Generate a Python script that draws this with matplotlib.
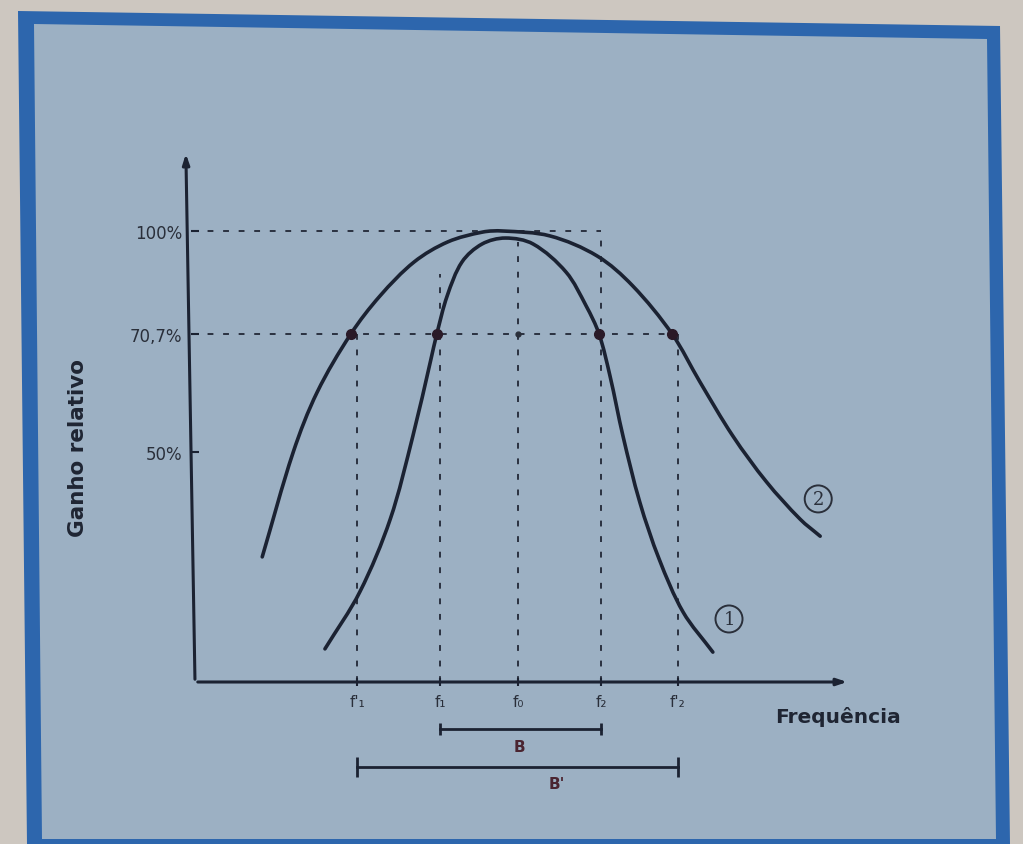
import numpy as np
import matplotlib
matplotlib.use("Agg")
import matplotlib.pyplot as plt
from matplotlib.patches import Polygon, PathPatch
from matplotlib.path import Path

# ---------------- data ----------------
# frequency in arbitrary units (axis origin = 0), gain in percent
freq_positions = [25.1, 37.9, 50.0, 62.8, 74.7]
freq_labels = ["f'\u2081", "f\u2081", "f\u2080", "f\u2082", "f'\u2082"]
vline_tops = [70.7, 87.8, 97.0, 100.0, 70.7]
cut_x = [24.1, 37.4, 62.5, 73.8]        # -3 dB crossing points (70,7 %)
cut_y = [70.7, 70.7, 70.7, 70.7]

gain_ticks = [50, 70.7, 100]
gain_labels = ["50%", "70,7%", "100%"]

# curve 1 (narrow band)
curve1_x = [20.1, 25.5, 30.2, 33.7, 36.5, 37.4, 39.0, 41.3, 44.4, 48.0,
            52.3, 57.4, 60.5, 62.5, 64.2, 66.2, 68.8, 71.8, 75.5, 80.1]
curve1_y = [7.2, 19.6, 35.4, 52.8, 66.3, 70.7, 81.5, 91.2, 96.3, 98.0,
            96.3, 88.3, 78.7, 70.7, 63.3, 52.8, 39.1, 26.7, 15.2, 6.5]
# curve 2 (wide band)
curve2_x = [10.4, 15.2, 18.9, 24.1, 28.6, 33.9, 39.1, 44.5, 47.6, 54.9,
            62.2, 67.7, 73.8, 78.1, 83.2, 88.4, 93.6, 96.7]
curve2_y = [27.2, 50.0, 60.5, 70.7, 81.5, 91.2, 96.9, 99.7, 100.0, 98.6,
            92.9, 84.4, 70.7, 62.3, 52.8, 43.5, 35.4, 31.7]

# ---------------- figure ----------------
W, H = 1023, 845
fig = plt.figure(figsize=(W / 100, H / 100), dpi=100)
fig.patch.set_facecolor("#cdc7c0")

def fp(pts):
    return [(x / W, 1 - y / H) for x, y in pts]

outer = Polygon(fp([(18, 12), (1000, 27), (1010, 845), (27, 845)]),
                closed=True, transform=fig.transFigure, fc="#2d66ad", ec="none", zorder=-3)
inner = Polygon(fp([(34, 25), (987, 40), (996, 840), (42, 840)]),
                closed=True, transform=fig.transFigure, fc="#9cb0c3", ec="none", zorder=-2)
fig.patches.extend([outer, inner])

ink = "#1b2232"
ax = fig.add_axes([195 / W, (H - 683) / H, (850 - 195) / W, (683 - 152) / H])
ax.set_facecolor("none")
ax.set_zorder(1)

# non-uniform vertical scale as drawn in the original
knots_pct = np.array([0, 50, 70.7, 100, 140])
knots_h = np.array([0, 230, 348, 451, 591.8])
fwd = lambda v: np.interp(v, knots_pct, knots_h)
inv = lambda h: np.interp(h, knots_h, knots_pct)
ax.set_yscale("function", functions=(fwd, inv))
XS = 6.465
ax.set_xlim(0, (850 - 195) / XS)
ax.set_ylim(0, float(inv(531)))

for s in ax.spines.values():
    s.set_visible(False)

# axes with arrows
ax.annotate("", xy=(1.0, 0), xytext=(0, 0), xycoords="axes fraction",
            arrowprops=dict(arrowstyle="-|>,head_length=0.6,head_width=0.2", color=ink, lw=2.2))
ax.annotate("", xy=(-0.014, 1.0), xytext=(0, 0), xycoords="axes fraction",
            arrowprops=dict(arrowstyle="-|>,head_length=0.6,head_width=0.2", color=ink, lw=2.2))

# dashed guide lines
dash = dict(color="#2a3140", lw=1.4, ls=(0, (3, 5)), zorder=1)
ax.plot([-0.5, freq_positions[3]], [100, 100], clip_on=False, **dash)
ax.plot([-0.5, freq_positions[4]], [70.7, 70.7], clip_on=False, **dash)
for xp, top in zip(freq_positions, vline_tops):
    ax.plot([xp, xp], [0, top], **dash)

# smooth curves through the read points (Bezier path drawn by matplotlib)
def smooth_curve(xs, ys, **kw):
    P = np.column_stack([np.asarray(xs) * XS, fwd(np.asarray(ys, float))])
    n = len(P)
    d = np.linalg.norm(np.diff(P, axis=0), axis=1)
    T = np.zeros_like(P)
    for i in range(n):
        if i == 0:
            T[i] = (P[1] - P[0]) / d[0]
        elif i == n - 1:
            T[i] = (P[-1] - P[-2]) / d[-1]
        else:
            T[i] = (P[i + 1] - P[i - 1]) / (d[i - 1] + d[i])
    verts = [P[0]]
    codes = [Path.MOVETO]
    for i in range(n - 1):
        verts += [P[i] + T[i] * d[i] / 3, P[i + 1] - T[i + 1] * d[i] / 3, P[i + 1]]
        codes += [Path.CURVE4] * 3
    V = np.array(verts)
    V = np.column_stack([V[:, 0] / XS, inv(V[:, 1])])
    ax.add_patch(PathPatch(Path(V, codes), fc="none", **kw))

smooth_curve(curve1_x, curve1_y, ec=ink, lw=2.6, capstyle="round", zorder=3)
smooth_curve(curve2_x, curve2_y, ec=ink, lw=2.6, capstyle="round", zorder=3)

# intersection dots
ax.plot(cut_x, cut_y, "o", color="#2a1a28", ms=7, zorder=4)
ax.plot([freq_positions[2]], [70.7], "o", color="#2a2f3a", ms=3.5, zorder=4)

# ticks
ax.set_xticks(freq_positions)
ax.set_xticklabels(freq_labels, fontsize=11, color="#2a2f3a")
ax.set_yticks(gain_ticks)
ax.set_yticklabels(gain_labels, fontsize=12, color="#2a2f3a")
ax.tick_params(axis="x", length=6, width=1.5, direction="inout", pad=6, color=ink)
ax.tick_params(axis="y", length=6, width=1.5, direction="inout", pad=6, color=ink)
ax.minorticks_off()

# axis titles
fig.text(78 / W, 1 - 448 / H, "Ganho relativo", rotation=90, ha="center", va="center",
         fontsize=15.5, fontweight="bold", color="#1f2533")
fig.text(838 / W, 1 - 717 / H, "Frequência", ha="center", va="center",
         fontsize=14.5, fontweight="bold", color="#1f2533")

# bandwidth brackets
tr = ax.get_xaxis_transform()
yB = (683 - 730) / (683 - 152)
yB2 = (683 - 768) / (683 - 152)
ax.plot([freq_positions[1], freq_positions[3]], [yB, yB], transform=tr, clip_on=False,
        color=ink, lw=2, marker="|", ms=8, mew=2)
ax.plot([freq_positions[0], freq_positions[4]], [yB2, yB2], transform=tr, clip_on=False,
        color=ink, lw=2, marker="|", ms=14, mew=2)
ax.text(50.2, (683 - 748) / (683 - 152), "B", transform=tr, ha="center", va="center",
        fontsize=11, fontweight="bold", color="#4a2430", clip_on=False)
ax.text(56.0, (683 - 785) / (683 - 152), "B'", transform=tr, ha="center", va="center",
        fontsize=11, fontweight="bold", color="#4a2430", clip_on=False)

# curve labels
circ = dict(boxstyle="circle,pad=0.25", fc="none", ec="#2a2f3a", lw=1.4)
ax.text(82.6, 13.7, "1", ha="center", va="center", fontsize=13, color="#2a2f3a",
        family="DejaVu Serif", bbox=circ, clip_on=False)
ax.text(96.4, 39.8, "2", ha="center", va="center", fontsize=13, color="#2a2f3a",
        family="DejaVu Serif", bbox=circ, clip_on=False)

fig.savefig("out.png", dpi=100, facecolor=fig.get_facecolor())
